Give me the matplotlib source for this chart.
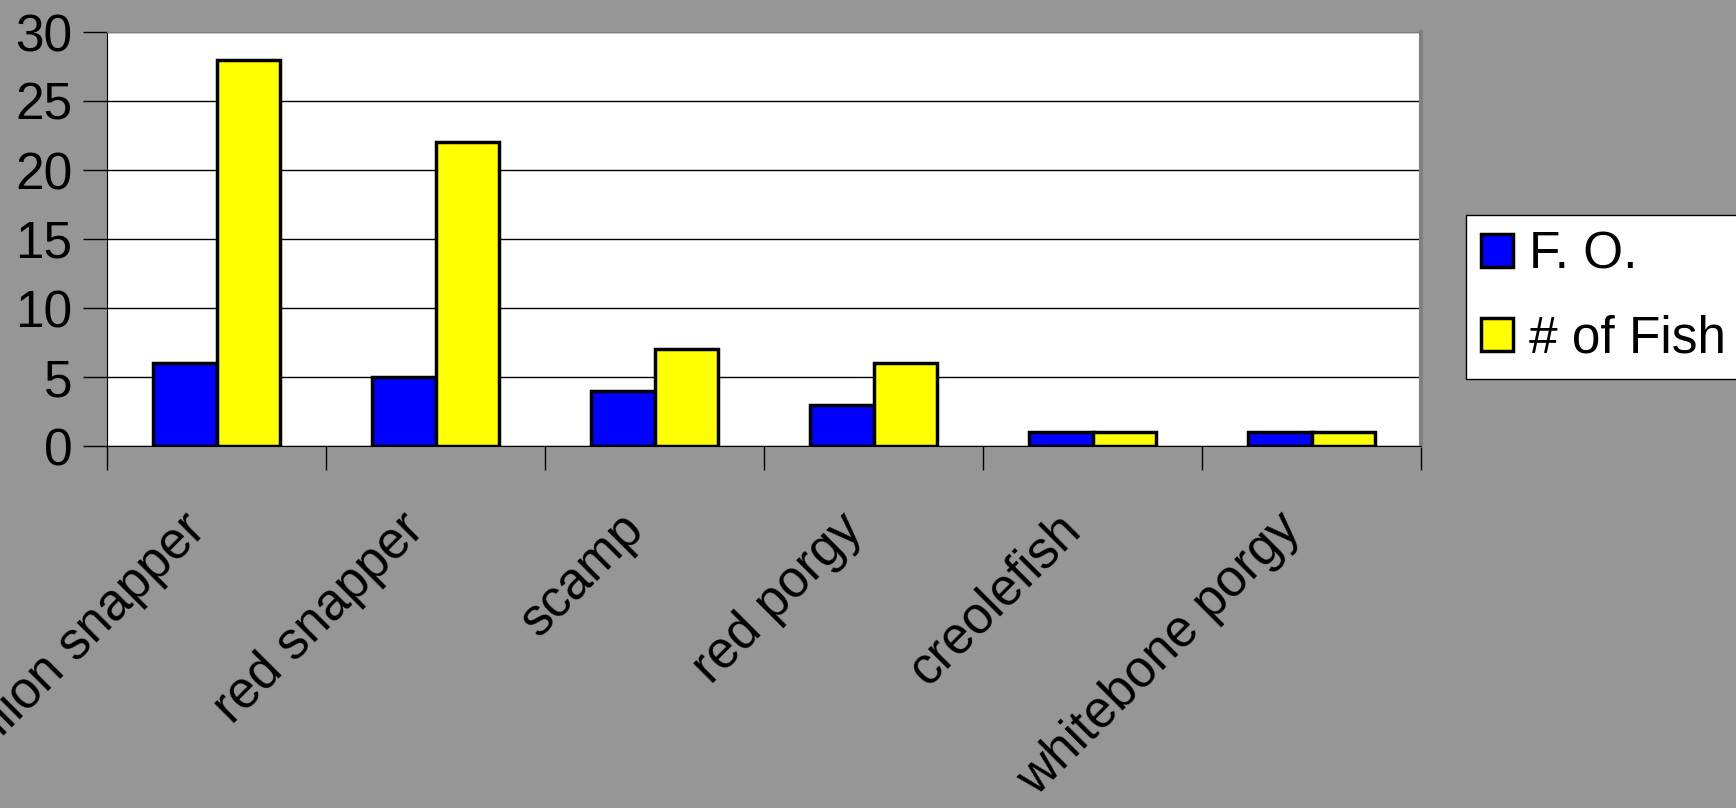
import numpy as np
import matplotlib.pyplot as plt
import matplotlib.transforms as mtransforms
from matplotlib.patches import Patch

# Data
species = ['vermilion snapper', 'red snapper', 'scamp', 'red porgy',
           'creolefish', 'whitebone porgy']
freq_occ = [6, 5, 4, 3, 1, 1]
num_fish = [28, 22, 7, 6, 1, 1]

plt.rcParams['font.family'] = ['Liberation Sans', 'DejaVu Sans']

bg = '#969696'
fig = plt.figure(figsize=(17.36, 8.08), dpi=100, facecolor=bg)
ax = fig.add_axes([107 / 1736, 1 - 446 / 808, (1421 - 107) / 1736, (446 - 32) / 808])
ax.set_facecolor('white')

x = np.arange(len(species))
w = 0.29
ax.bar(x - w / 2, freq_occ, w, color='#0000ff', edgecolor='black', linewidth=2.5, zorder=3)
ax.bar(x + w / 2, num_fish, w, color='#ffff00', edgecolor='black', linewidth=2.5, zorder=3)

ax.set_xlim(-0.5, len(species) - 0.5)
ax.set_ylim(0, 30)
ax.set_yticks(np.arange(0, 31, 5))
ax.yaxis.grid(True, color='black', linewidth=1, zorder=0)
ax.tick_params(axis='y', labelsize=37, length=17, width=1, pad=8, direction='out')

# category boundary ticks on x
ax.set_xticks(np.arange(-0.5, len(species), 1.0))
ax.set_xticklabels([])
ax.tick_params(axis='x', which='major', length=17, width=1, direction='out')
ax.set_xticks(x, minor=True)
ax.set_xticklabels(species, minor=True, rotation=45, ha='right',
                   rotation_mode='anchor', fontsize=37)
ax.tick_params(axis='x', which='minor', length=0, pad=42)
shift = mtransforms.ScaledTranslation(-0.36, 0, fig.dpi_scale_trans)
for lbl in ax.get_xticklabels(minor=True):
    lbl.set_transform(lbl.get_transform() + shift)

for s in ['top', 'right']:
    ax.spines[s].set_color('#808080')
ax.spines['right'].set_linewidth(3)
ax.spines['left'].set_color('black')
ax.spines['bottom'].set_color('black')

handles = [Patch(facecolor='#0000ff', edgecolor='black', linewidth=2.5, label='F. O.'),
           Patch(facecolor='#ffff00', edgecolor='black', linewidth=2.5, label='# of Fish')]
leg = fig.legend(handles=handles, loc='upper left', bbox_to_anchor=(1466 / 1736, 1 - 215 / 808),
                 fontsize=37, frameon=True, fancybox=False, edgecolor='black',
                 facecolor='white', framealpha=1,
                 handlelength=0.62, handleheight=0.62, handletextpad=0.3,
                 labelspacing=0.68, borderpad=0.3, borderaxespad=0)
leg.get_frame().set_linewidth(1)

fig.savefig('out.png', dpi=100, facecolor=bg)
